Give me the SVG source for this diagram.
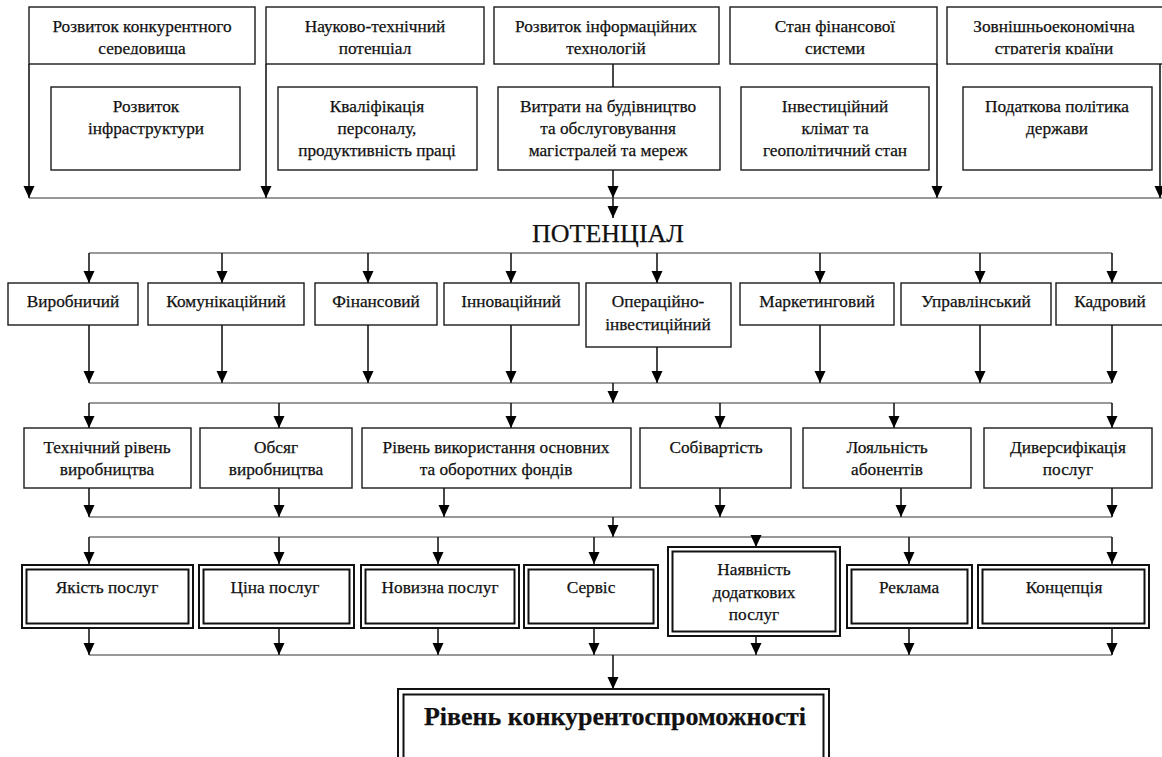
<svg xmlns="http://www.w3.org/2000/svg" width="1162" height="757" viewBox="0 0 1162 757">
<defs>
<style>
.bx{fill:#fff;stroke:#1a1a1a;stroke-width:1.4}
.db{fill:#fff;stroke:#111;stroke-width:2}
.t{font-family:"Liberation Serif","Times New Roman",serif;font-size:17.3px;fill:#111;stroke:#111;stroke-width:0.25;text-anchor:middle}
.big{font-size:26px}
.fin{font-size:26px;font-weight:bold}
.v{stroke:#1a1a1a;stroke-width:1.6;fill:none}
.h{stroke:#333;stroke-width:1.2;fill:none}
.a{marker-end:url(#ah)}
</style>
<marker id="ah" markerUnits="userSpaceOnUse" markerWidth="13" markerHeight="12" refX="12" refY="5.5" orient="auto">
<path d="M0,0 L12,5.5 L0,11 Z" fill="#000"/>
</marker>
<clipPath id="topclip"><rect x="0" y="0" width="1162" height="54.5"/></clipPath>
</defs>
<rect width="1162" height="757" fill="#fff"/>

<g id="connectors">
<line class="v a" x1="29" y1="64" x2="29" y2="198"/>
<line class="v a" x1="266" y1="64" x2="266" y2="198"/>
<line class="v" x1="613" y1="64" x2="613" y2="87"/>
<line class="v a" x1="613" y1="170" x2="613" y2="198"/>
<line class="v a" x1="613" y1="198" x2="613" y2="218"/>
<line class="v a" x1="937" y1="64" x2="937" y2="198"/>
<line class="v a" x1="1160" y1="64" x2="1160" y2="198"/>
<line class="h" x1="29" y1="198" x2="1162" y2="198"/>

<line class="h" x1="89" y1="253" x2="1112" y2="253"/>
<line class="v a" x1="89" y1="253" x2="89" y2="283"/>
<line class="v a" x1="222" y1="253" x2="222" y2="283"/>
<line class="v a" x1="368" y1="253" x2="368" y2="283"/>
<line class="v a" x1="511" y1="253" x2="511" y2="283"/>
<line class="v a" x1="657" y1="253" x2="657" y2="283"/>
<line class="v a" x1="820" y1="253" x2="820" y2="283"/>
<line class="v a" x1="980" y1="253" x2="980" y2="283"/>
<line class="v a" x1="1112" y1="253" x2="1112" y2="283"/>

<line class="v a" x1="89" y1="325" x2="89" y2="383"/>
<line class="v a" x1="222" y1="325" x2="222" y2="383"/>
<line class="v a" x1="368" y1="325" x2="368" y2="383"/>
<line class="v a" x1="511" y1="325" x2="511" y2="383"/>
<line class="v a" x1="657" y1="347" x2="657" y2="383"/>
<line class="v a" x1="820" y1="325" x2="820" y2="383"/>
<line class="v a" x1="980" y1="325" x2="980" y2="383"/>
<line class="v a" x1="1112" y1="325" x2="1112" y2="383"/>
<line class="h" x1="89" y1="383" x2="1112" y2="383"/>
<line class="v a" x1="613" y1="383" x2="613" y2="403"/>

<line class="h" x1="89" y1="403" x2="1112" y2="403"/>
<line class="v a" x1="89" y1="403" x2="89" y2="428"/>
<line class="v a" x1="279" y1="403" x2="279" y2="428"/>
<line class="v a" x1="511" y1="403" x2="511" y2="428"/>
<line class="v a" x1="720" y1="403" x2="720" y2="428"/>
<line class="v a" x1="894" y1="403" x2="894" y2="428"/>
<line class="v a" x1="1112" y1="403" x2="1112" y2="428"/>

<line class="v a" x1="89" y1="488" x2="89" y2="517"/>
<line class="v a" x1="279" y1="488" x2="279" y2="517"/>
<line class="v a" x1="444" y1="488" x2="444" y2="517"/>
<line class="v a" x1="720" y1="488" x2="720" y2="517"/>
<line class="v a" x1="901" y1="488" x2="901" y2="517"/>
<line class="v a" x1="1112" y1="488" x2="1112" y2="517"/>
<line class="h" x1="89" y1="517" x2="1112" y2="517"/>
<line class="v a" x1="613" y1="517" x2="613" y2="537"/>

<line class="h" x1="89" y1="537" x2="1112" y2="537"/>
<line class="v a" x1="89" y1="537" x2="89" y2="564"/>
<line class="v a" x1="279" y1="537" x2="279" y2="564"/>
<line class="v a" x1="438" y1="537" x2="438" y2="564"/>
<line class="v a" x1="594" y1="537" x2="594" y2="564"/>
<line class="v a" x1="756" y1="537" x2="756" y2="547"/>
<line class="v a" x1="909" y1="537" x2="909" y2="564"/>
<line class="v a" x1="1112" y1="537" x2="1112" y2="564"/>

<line class="v a" x1="89" y1="629" x2="89" y2="655"/>
<line class="v a" x1="279" y1="629" x2="279" y2="655"/>
<line class="v a" x1="438" y1="629" x2="438" y2="655"/>
<line class="v a" x1="594" y1="629" x2="594" y2="655"/>
<line class="v a" x1="756" y1="637" x2="756" y2="655"/>
<line class="v a" x1="909" y1="629" x2="909" y2="655"/>
<line class="v a" x1="1112" y1="629" x2="1112" y2="655"/>
<line class="h" x1="89" y1="655" x2="1112" y2="655"/>
<line class="v a" x1="613" y1="655" x2="613" y2="689"/>
</g>

<g id="top1"><rect class="bx" x="29" y="7" width="226" height="57"/><g clip-path="url(#topclip)"><text class="t" x="142" y="32">Розвиток конкурентного</text><text class="t" x="142" y="54">середовища</text></g></g>
<g id="top2"><rect class="bx" x="266" y="7" width="218" height="57"/><g clip-path="url(#topclip)"><text class="t" x="375" y="32">Науково-технічний</text><text class="t" x="375" y="54">потенціал</text></g></g>
<g id="top3"><rect class="bx" x="494" y="7" width="225" height="57"/><g clip-path="url(#topclip)"><text class="t" x="606" y="32">Розвиток інформаційних</text><text class="t" x="606" y="54">технологій</text></g></g>
<g id="top4"><rect class="bx" x="730" y="7" width="207" height="57"/><g clip-path="url(#topclip)"><text class="t" x="835" y="32">Стан фінансової</text><text class="t" x="835" y="54">системи</text></g></g>
<g id="top5"><rect class="bx" x="947" y="7" width="218" height="57"/><g clip-path="url(#topclip)"><text class="t" x="1054" y="32">Зовнішньоекономічна</text><text class="t" x="1054" y="54">стратегія країни</text></g></g>

<g id="in1"><rect class="bx" x="51" y="87" width="189" height="83"/><text class="t" x="146" y="112">Розвиток</text><text class="t" x="146" y="134">інфраструктури</text></g>
<g id="in2"><rect class="bx" x="278" y="87" width="199" height="83"/><text class="t" x="377" y="112">Кваліфікація</text><text class="t" x="377" y="134">персоналу,</text><text class="t" x="377" y="156">продуктивність праці</text></g>
<g id="in3"><rect class="bx" x="498" y="87" width="222" height="83"/><text class="t" x="608" y="112">Витрати на будівництво</text><text class="t" x="608" y="134">та обслуговування</text><text class="t" x="608" y="156">магістралей та мереж</text></g>
<g id="in4"><rect class="bx" x="741" y="87" width="188" height="83"/><text class="t" x="835" y="112">Інвестиційний</text><text class="t" x="835" y="134">клімат та</text><text class="t" x="835" y="156">геополітичний стан</text></g>
<g id="in5"><rect class="bx" x="963" y="87" width="189" height="83"/><text class="t" x="1057" y="112">Податкова політика</text><text class="t" x="1057" y="134">держави</text></g>

<g id="potential"><text class="t big" x="608" y="242">ПОТЕНЦІАЛ</text></g>

<g id="p1"><rect class="bx" x="8" y="283" width="130" height="42"/><text class="t" x="73" y="307">Виробничий</text></g>
<g id="p2"><rect class="bx" x="148" y="283" width="156" height="42"/><text class="t" x="226" y="307">Комунікаційний</text></g>
<g id="p3"><rect class="bx" x="315" y="283" width="122" height="42"/><text class="t" x="376" y="307">Фінансовий</text></g>
<g id="p4"><rect class="bx" x="444" y="283" width="135" height="42"/><text class="t" x="511" y="307">Інноваційний</text></g>
<g id="p5"><rect class="bx" x="586" y="283" width="145" height="64"/><text class="t" x="658" y="307">Операційно-</text><text class="t" x="658" y="330">інвестиційний</text></g>
<g id="p6"><rect class="bx" x="740" y="283" width="154" height="42"/><text class="t" x="817" y="307">Маркетинговий</text></g>
<g id="p7"><rect class="bx" x="901" y="283" width="150" height="42"/><text class="t" x="976" y="307">Управлінський</text></g>
<g id="p8"><rect class="bx" x="1056" y="283" width="110" height="42"/><text class="t" x="1110" y="307">Кадровий</text></g>

<g id="f1"><rect class="bx" x="24" y="428" width="167" height="60"/><text class="t" x="107" y="453">Технічний рівень</text><text class="t" x="107" y="475">виробництва</text></g>
<g id="f2"><rect class="bx" x="200" y="428" width="152" height="60"/><text class="t" x="276" y="453">Обсяг</text><text class="t" x="276" y="475">виробництва</text></g>
<g id="f3"><rect class="bx" x="362" y="428" width="269" height="60"/><text class="t" x="496" y="453">Рівень використання основних</text><text class="t" x="496" y="475">та оборотних фондів</text></g>
<g id="f4"><rect class="bx" x="640" y="428" width="151" height="60"/><text class="t" x="716" y="453">Собівартість</text></g>
<g id="f5"><rect class="bx" x="803" y="428" width="168" height="60"/><text class="t" x="887" y="453">Лояльність</text><text class="t" x="887" y="475">абонентів</text></g>
<g id="f6"><rect class="bx" x="984" y="428" width="168" height="60"/><text class="t" x="1068" y="453">Диверсифікація</text><text class="t" x="1068" y="475">послуг</text></g>

<g id="s1"><rect class="db" x="22" y="565" width="171" height="63"/><rect class="db" x="26.5" y="569.5" width="162" height="54"/><text class="t" x="107" y="593">Якість послуг</text></g>
<g id="s2"><rect class="db" x="199" y="565" width="155" height="63"/><rect class="db" x="203.5" y="569.5" width="146" height="54"/><text class="t" x="275" y="593">Ціна послуг</text></g>
<g id="s3"><rect class="db" x="361" y="565" width="158" height="63"/><rect class="db" x="365.5" y="569.5" width="149" height="54"/><text class="t" x="440" y="593">Новизна послуг</text></g>
<g id="s4"><rect class="db" x="524" y="565" width="134" height="63"/><rect class="db" x="528.5" y="569.5" width="125" height="54"/><text class="t" x="591" y="593">Сервіс</text></g>
<g id="s5"><rect class="db" x="668" y="547" width="172" height="89"/><rect class="db" x="672.5" y="551.5" width="163" height="80"/><text class="t" x="754" y="575">Наявність</text><text class="t" x="754" y="598">додаткових</text><text class="t" x="754" y="620">послуг</text></g>
<g id="s6"><rect class="db" x="847" y="565" width="125" height="63"/><rect class="db" x="851.5" y="569.5" width="116" height="54"/><text class="t" x="909" y="593">Реклама</text></g>
<g id="s7"><rect class="db" x="978" y="565" width="171" height="63"/><rect class="db" x="982.5" y="569.5" width="162" height="54"/><text class="t" x="1064" y="593">Концепція</text></g>

<g id="final"><rect class="db" x="398" y="689" width="431" height="80"/><rect class="db" x="403.5" y="694.5" width="420" height="80"/><text class="t fin" x="615" y="725">Рівень конкурентоспроможності</text></g>
</svg>
